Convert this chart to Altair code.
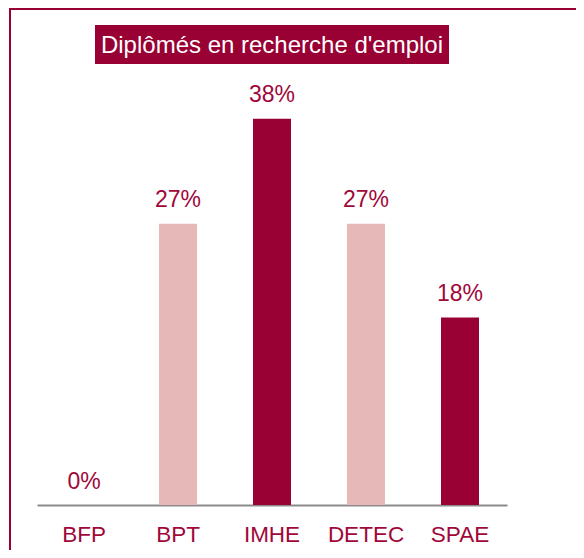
import altair as alt
import pandas as pd

categories = ["BFP", "BPT", "IMHE", "DETEC", "SPAE"]
values = [0.0, 27.3, 37.5, 27.3, 18.2]
value_labels = ["0%", "27%", "38%", "27%", "18%"]
bar_colors = ["#e6b8b7", "#e6b8b7", "#990033", "#e6b8b7", "#990033"]
title_text = "Diplômés en recherche d'emploi"

DARK = "#990033"
TEXT = "#a0083a"

df = pd.DataFrame({"cat": categories, "val": values, "lab": value_labels, "col": bar_colors})
one = pd.DataFrame({"a": [0]})

W, H = 470, 412

xscale = alt.Scale(domain=categories, paddingInner=0.596, paddingOuter=0.298)
yscale = alt.Scale(domain=[0, 40])

bars = alt.Chart(df).mark_bar(size=38).encode(
    x=alt.X("cat:N", sort=categories, scale=xscale,
            axis=alt.Axis(title=None, labelAngle=0, ticks=False, domainColor="#8c8c8c",
                          domainWidth=2, labelColor=TEXT, labelFontSize=22.5,
                          labelBaseline="alphabetic", labelPadding=36,
                          labelFont="Liberation Sans", grid=False)),
    y=alt.Y("val:Q", scale=yscale, axis=None),
    color=alt.Color("col:N", scale=None),
)

labels = alt.Chart(df).mark_text(dy=-16.5, baseline="alphabetic", fontSize=23,
                                 color=TEXT, font="Liberation Sans").encode(
    x=alt.X("cat:N", sort=categories, scale=xscale),
    y=alt.Y("val:Q", scale=yscale),
    text="lab:N",
)

frame = alt.Chart(one).mark_rect(fill=None, stroke=DARK, strokeWidth=2).encode(
    x=alt.value(-27), x2=alt.value(800), y=alt.value(-84), y2=alt.value(800)
)

title_box = alt.Chart(one).mark_rect(fill=DARK).encode(
    x=alt.value(58), x2=alt.value(412), y=alt.value(-68), y2=alt.value(-29)
)

title = alt.Chart(one).mark_text(color="white", fontSize=24, font="Liberation Sans",
                                 align="center", baseline="middle").encode(
    x=alt.value(W / 2), y=alt.value(-47.5), text=alt.value(title_text)
)

chart = alt.layer(frame, title_box, title, bars, labels).properties(
    width=W, height=H,
    padding={"left": 29, "top": 85, "right": 69, "bottom": 45},
    autosize=alt.AutoSizeParams(type="none"),
).configure(font="Liberation Sans", view=alt.ViewConfig(stroke=None, strokeWidth=0))

chart.save("out.html", embed_options={"renderer": "svg", "actions": False})
